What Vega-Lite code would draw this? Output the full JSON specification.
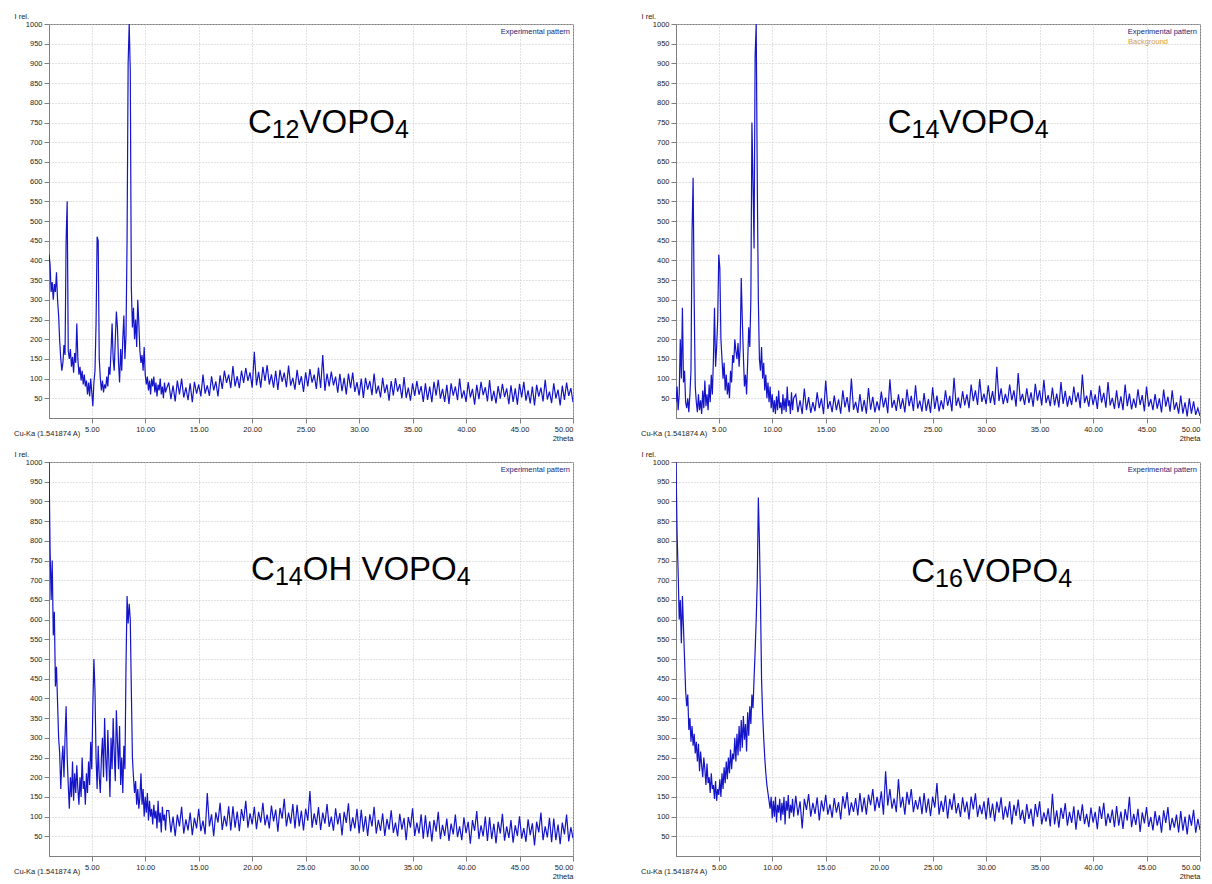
{
"$schema": "https://vega.github.io/schema/vega-lite/v6.json",
"padding": {"left": 13, "top": 11, "right": 5, "bottom": 2},
"config": {
  "font": "Liberation Sans",
  "view": {"stroke": "#808080", "strokeWidth": 1},
  "axis": {"labelFontSize": 7.5, "labelColor": "#222", "labelFont": "Liberation Sans", "titleFont": "Liberation Sans", "titleFontSize": 7.5, "titleFontWeight": "normal", "titleColor": "#222", "domainColor": "#808080", "tickColor": "#808080", "tickSize": 5, "grid": true, "gridColor": "#c4c4c4", "gridDash": [1, 2], "gridWidth": 1, "labelOverlap": false},
  "title": {"fontSize": 7.5, "fontWeight": "normal", "color": "#222", "font": "Liberation Sans"}
},
"datasets": {"xrd": [
{"t":1.0,"a":415,"b":40,"c":1000,"d":1000},
{"t":1.1,"a":390,"b":80,"c":780,"d":820},
{"t":1.2,"a":320,"b":20,"c":650,"d":720},
{"t":1.3,"a":345,"b":60,"c":750,"d":600},
{"t":1.4,"a":300,"b":200,"c":560,"d":650},
{"t":1.5,"a":340,"b":100,"c":620,"d":540},
{"t":1.6,"a":320,"b":280,"c":430,"d":660},
{"t":1.7,"a":370,"b":90,"c":480,"d":580},
{"t":1.8,"a":300,"b":120,"c":390,"d":500},
{"t":1.9,"a":260,"b":40,"c":300,"d":420},
{"t":2.0,"a":195,"b":25,"c":260,"d":380},
{"t":2.1,"a":150,"b":50,"c":170,"d":410},
{"t":2.2,"a":120,"b":15,"c":240,"d":320},
{"t":2.3,"a":140,"b":60,"c":280,"d":350},
{"t":2.4,"a":185,"b":120,"c":200,"d":290},
{"t":2.5,"a":160,"b":470,"c":300,"d":330},
{"t":2.6,"a":450,"b":610,"c":380,"d":280},
{"t":2.7,"a":550,"b":300,"c":250,"d":310},
{"t":2.8,"a":170,"b":80,"c":180,"d":260},
{"t":2.9,"a":150,"b":40,"c":120,"d":290},
{"t":3.0,"a":175,"b":15,"c":200,"d":240},
{"t":3.1,"a":130,"b":60,"c":150,"d":285},
{"t":3.2,"a":155,"b":20,"c":240,"d":215},
{"t":3.3,"a":115,"b":45,"c":140,"d":265},
{"t":3.4,"a":165,"b":10,"c":210,"d":230},
{"t":3.5,"a":140,"b":70,"c":160,"d":200},
{"t":3.6,"a":240,"b":25,"c":230,"d":250},
{"t":3.7,"a":150,"b":95,"c":170,"d":220},
{"t":3.8,"a":110,"b":30,"c":130,"d":180},
{"t":3.9,"a":130,"b":60,"c":200,"d":235},
{"t":4.0,"a":95,"b":20,"c":150,"d":185},
{"t":4.1,"a":120,"b":85,"c":250,"d":200},
{"t":4.2,"a":85,"b":40,"c":170,"d":160},
{"t":4.3,"a":110,"b":110,"c":190,"d":210},
{"t":4.4,"a":80,"b":60,"c":130,"d":170},
{"t":4.5,"a":95,"b":150,"c":210,"d":180},
{"t":4.6,"a":60,"b":280,"c":160,"d":145},
{"t":4.7,"a":90,"b":130,"c":240,"d":190},
{"t":4.8,"a":55,"b":180,"c":180,"d":140},
{"t":4.9,"a":100,"b":250,"c":290,"d":170},
{"t":5.0,"a":65,"b":415,"c":220,"d":155},
{"t":5.1,"a":30,"b":380,"c":380,"d":195},
{"t":5.2,"a":90,"b":200,"c":500,"d":150},
{"t":5.3,"a":120,"b":150,"c":420,"d":210},
{"t":5.4,"a":240,"b":100,"c":250,"d":170},
{"t":5.5,"a":460,"b":140,"c":170,"d":225},
{"t":5.6,"a":450,"b":70,"c":280,"d":185},
{"t":5.7,"a":150,"b":110,"c":200,"d":240},
{"t":5.8,"a":100,"b":60,"c":160,"d":195},
{"t":5.9,"a":70,"b":90,"c":250,"d":250},
{"t":6.0,"a":95,"b":50,"c":300,"d":210},
{"t":6.1,"a":65,"b":120,"c":200,"d":270},
{"t":6.2,"a":85,"b":90,"c":350,"d":220},
{"t":6.3,"a":75,"b":160,"c":250,"d":260},
{"t":6.4,"a":105,"b":140,"c":190,"d":245},
{"t":6.5,"a":80,"b":200,"c":320,"d":300},
{"t":6.6,"a":130,"b":170,"c":240,"d":240},
{"t":6.7,"a":110,"b":150,"c":150,"d":310},
{"t":6.8,"a":170,"b":190,"c":300,"d":255},
{"t":6.9,"a":240,"b":130,"c":220,"d":330},
{"t":7.0,"a":150,"b":180,"c":350,"d":265},
{"t":7.1,"a":120,"b":355,"c":260,"d":345},
{"t":7.2,"a":200,"b":250,"c":190,"d":275},
{"t":7.3,"a":270,"b":160,"c":370,"d":355},
{"t":7.4,"a":230,"b":80,"c":290,"d":295},
{"t":7.5,"a":140,"b":110,"c":220,"d":335},
{"t":7.6,"a":90,"b":60,"c":330,"d":265},
{"t":7.7,"a":175,"b":140,"c":180,"d":365},
{"t":7.8,"a":120,"b":230,"c":250,"d":305},
{"t":7.9,"a":200,"b":180,"c":160,"d":380},
{"t":8.0,"a":260,"b":300,"c":280,"d":335},
{"t":8.1,"a":150,"b":750,"c":220,"d":410},
{"t":8.2,"a":210,"b":600,"c":480,"d":375},
{"t":8.3,"a":450,"b":430,"c":660,"d":450},
{"t":8.4,"a":900,"b":920,"c":590,"d":520},
{"t":8.5,"a":1000,"b":1000,"c":640,"d":600},
{"t":8.6,"a":880,"b":600,"c":600,"d":700},
{"t":8.7,"a":330,"b":300,"c":420,"d":910},
{"t":8.8,"a":230,"b":150,"c":250,"d":800},
{"t":8.9,"a":280,"b":120,"c":200,"d":650},
{"t":9.0,"a":200,"b":180,"c":160,"d":450},
{"t":9.1,"a":250,"b":100,"c":190,"d":360},
{"t":9.2,"a":180,"b":140,"c":130,"d":300},
{"t":9.3,"a":300,"b":70,"c":170,"d":250},
{"t":9.4,"a":240,"b":110,"c":120,"d":210},
{"t":9.5,"a":170,"b":50,"c":150,"d":180},
{"t":9.6,"a":140,"b":90,"c":210,"d":160},
{"t":9.7,"a":160,"b":40,"c":130,"d":140},
{"t":9.8,"a":120,"b":80,"c":170,"d":120},
{"t":9.9,"a":180,"b":25,"c":100,"d":150},
{"t":10.0,"a":110,"b":60,"c":150,"d":95},
{"t":10.1,"a":85,"b":15,"c":110,"d":140},
{"t":10.2,"a":105,"b":45,"c":160,"d":100},
{"t":10.3,"a":70,"b":10,"c":90,"d":150},
{"t":10.4,"a":95,"b":55,"c":140,"d":85},
{"t":10.5,"a":60,"b":20,"c":100,"d":130},
{"t":10.6,"a":100,"b":70,"c":120,"d":110},
{"t":10.7,"a":80,"b":25,"c":80,"d":145},
{"t":10.8,"a":105,"b":40,"c":130,"d":90},
{"t":10.9,"a":65,"b":10,"c":95,"d":135},
{"t":11.0,"a":90,"b":60,"c":115,"d":105},
{"t":11.1,"a":55,"b":20,"c":70,"d":150},
{"t":11.2,"a":85,"b":50,"c":140,"d":80},
{"t":11.3,"a":70,"b":15,"c":85,"d":140},
{"t":11.4,"a":100,"b":80,"c":110,"d":115},
{"t":11.5,"a":60,"b":30,"c":60,"d":155},
{"t":11.6,"a":80,"b":45,"c":125,"d":95},
{"t":11.7,"a":50,"b":10,"c":90,"d":130},
{"t":11.8,"a":90,"b":65,"c":105,"d":110},
{"t":11.9,"a":65,"b":20,"c":65,"d":145},
{"t":12.0,"a":75,"b":50,"c":115,"d":100},
{"t":12.2,"a":90,"b":60,"c":115,"d":153},
{"t":12.4,"a":48,"b":15,"c":60,"d":103},
{"t":12.6,"a":82,"b":45,"c":100,"d":139},
{"t":12.8,"a":42,"b":10,"c":50,"d":70},
{"t":13.0,"a":95,"b":75,"c":105,"d":145},
{"t":13.2,"a":60,"b":20,"c":75,"d":117},
{"t":13.4,"a":100,"b":53,"c":125,"d":157},
{"t":13.6,"a":52,"b":13,"c":57,"d":100},
{"t":13.8,"a":78,"b":40,"c":93,"d":135},
{"t":14.0,"a":45,"b":17,"c":65,"d":107},
{"t":14.2,"a":88,"b":65,"c":110,"d":149},
{"t":14.4,"a":40,"b":25,"c":53,"d":90},
{"t":14.6,"a":92,"b":50,"c":97,"d":141},
{"t":14.8,"a":62,"b":10,"c":70,"d":113},
{"t":15.0,"a":85,"b":95,"c":120,"d":155},
{"t":15.2,"a":55,"b":23,"c":63,"d":105},
{"t":15.4,"a":110,"b":43,"c":90,"d":131},
{"t":15.6,"a":62,"b":15,"c":55,"d":97},
{"t":15.8,"a":83,"b":57,"c":160,"d":147},
{"t":16.0,"a":56,"b":20,"c":75,"d":110},
{"t":16.2,"a":106,"b":47,"c":106,"d":137},
{"t":16.4,"a":70,"b":11,"c":50,"d":93},
{"t":16.6,"a":93,"b":70,"c":111,"d":152},
{"t":16.8,"a":55,"b":27,"c":85,"d":120},
{"t":17.0,"a":108,"b":53,"c":135,"d":162},
{"t":17.2,"a":74,"b":15,"c":66,"d":103},
{"t":17.4,"a":120,"b":100,"c":102,"d":136},
{"t":17.6,"a":89,"b":21,"c":75,"d":112},
{"t":17.8,"a":110,"b":41,"c":126,"d":147},
{"t":18.0,"a":76,"b":13,"c":65,"d":103},
{"t":18.2,"a":132,"b":61,"c":126,"d":160},
{"t":18.4,"a":80,"b":16,"c":72,"d":111},
{"t":18.6,"a":106,"b":46,"c":113,"d":148},
{"t":18.8,"a":76,"b":11,"c":63,"d":105},
{"t":19.0,"a":120,"b":76,"c":119,"d":156},
{"t":19.2,"a":89,"b":21,"c":89,"d":129},
{"t":19.4,"a":127,"b":54,"c":140,"d":170},
{"t":19.6,"a":94,"b":14,"c":72,"d":114},
{"t":19.8,"a":116,"b":42,"c":108,"d":150},
{"t":20.0,"a":77,"b":19,"c":80,"d":122},
{"t":20.2,"a":168,"b":67,"c":125,"d":164},
{"t":20.4,"a":83,"b":27,"c":68,"d":105},
{"t":20.6,"a":117,"b":52,"c":112,"d":215},
{"t":20.8,"a":77,"b":12,"c":85,"d":128},
{"t":21.0,"a":130,"b":98,"c":135,"d":170},
{"t":21.2,"a":94,"b":26,"c":78,"d":120},
{"t":21.4,"a":134,"b":46,"c":105,"d":146},
{"t":21.6,"a":85,"b":18,"c":70,"d":111},
{"t":21.8,"a":111,"b":60,"c":128,"d":195},
{"t":22.0,"a":77,"b":23,"c":88,"d":123},
{"t":22.2,"a":120,"b":50,"c":118,"d":150},
{"t":22.4,"a":71,"b":14,"c":62,"d":105},
{"t":22.6,"a":122,"b":73,"c":122,"d":163},
{"t":22.8,"a":92,"b":30,"c":95,"d":130},
{"t":23.0,"a":115,"b":56,"c":145,"d":170},
{"t":23.2,"a":78,"b":18,"c":75,"d":111},
{"t":23.4,"a":133,"b":83,"c":110,"d":142},
{"t":23.6,"a":82,"b":24,"c":82,"d":118},
{"t":23.8,"a":102,"b":44,"c":132,"d":151},
{"t":24.0,"a":72,"b":16,"c":70,"d":106},
{"t":24.2,"a":122,"b":63,"c":130,"d":160},
{"t":24.4,"a":84,"b":18,"c":75,"d":110},
{"t":24.6,"a":106,"b":48,"c":115,"d":146},
{"t":24.8,"a":66,"b":13,"c":65,"d":101},
{"t":25.0,"a":116,"b":78,"c":120,"d":151},
{"t":25.2,"a":80,"b":23,"c":90,"d":123},
{"t":25.4,"a":124,"b":57,"c":165,"d":185},
{"t":25.6,"a":90,"b":17,"c":72,"d":105},
{"t":25.8,"a":110,"b":45,"c":108,"d":140},
{"t":26.0,"a":74,"b":22,"c":79,"d":112},
{"t":26.2,"a":128,"b":70,"c":124,"d":154},
{"t":26.4,"a":76,"b":31,"c":66,"d":95},
{"t":26.6,"a":160,"b":56,"c":110,"d":145},
{"t":26.8,"a":69,"b":17,"c":82,"d":117},
{"t":27.0,"a":113,"b":102,"c":132,"d":159},
{"t":27.2,"a":80,"b":31,"c":74,"d":108},
{"t":27.4,"a":118,"b":52,"c":100,"d":134},
{"t":27.6,"a":83,"b":25,"c":64,"d":99},
{"t":27.8,"a":105,"b":68,"c":121,"d":149},
{"t":28.0,"a":64,"b":32,"c":80,"d":111},
{"t":28.2,"a":112,"b":60,"c":109,"d":138},
{"t":28.4,"a":68,"b":25,"c":52,"d":93},
{"t":28.6,"a":102,"b":85,"c":112,"d":151},
{"t":28.8,"a":60,"b":43,"c":84,"d":118},
{"t":29.0,"a":113,"b":70,"c":134,"d":159},
{"t":29.2,"a":76,"b":33,"c":63,"d":99},
{"t":29.4,"a":115,"b":99,"c":98,"d":130},
{"t":29.6,"a":66,"b":41,"c":70,"d":106},
{"t":29.8,"a":91,"b":62,"c":120,"d":139},
{"t":30.0,"a":57,"b":35,"c":57,"d":93},
{"t":30.2,"a":100,"b":83,"c":117,"d":148},
{"t":30.4,"a":51,"b":38,"c":62,"d":97},
{"t":30.6,"a":102,"b":68,"c":101,"d":133},
{"t":30.8,"a":72,"b":33,"c":51,"d":88},
{"t":31.0,"a":94,"b":130,"c":106,"d":138},
{"t":31.2,"a":58,"b":43,"c":75,"d":110},
{"t":31.4,"a":113,"b":75,"c":125,"d":149},
{"t":31.6,"a":62,"b":35,"c":57,"d":92},
{"t":31.8,"a":82,"b":61,"c":92,"d":126},
{"t":32.0,"a":52,"b":38,"c":64,"d":98},
{"t":32.2,"a":102,"b":85,"c":108,"d":139},
{"t":32.4,"a":63,"b":45,"c":51,"d":80},
{"t":32.6,"a":85,"b":70,"c":94,"d":130},
{"t":32.8,"a":44,"b":29,"c":67,"d":102},
{"t":33.0,"a":94,"b":114,"c":116,"d":143},
{"t":33.2,"a":57,"b":42,"c":59,"d":92},
{"t":33.4,"a":101,"b":61,"c":85,"d":117},
{"t":33.6,"a":67,"b":33,"c":50,"d":82},
{"t":33.8,"a":86,"b":75,"c":107,"d":132},
{"t":34.0,"a":50,"b":38,"c":67,"d":94},
{"t":34.2,"a":104,"b":65,"c":96,"d":120},
{"t":34.4,"a":51,"b":29,"c":40,"d":75},
{"t":34.6,"a":77,"b":87,"c":99,"d":132},
{"t":34.8,"a":44,"b":44,"c":72,"d":99},
{"t":35.0,"a":88,"b":70,"c":121,"d":139},
{"t":35.2,"a":56,"b":32,"c":51,"d":80},
{"t":35.4,"a":94,"b":97,"c":85,"d":111},
{"t":35.6,"a":59,"b":38,"c":57,"d":87},
{"t":35.8,"a":81,"b":58,"c":106,"d":121},
{"t":36.0,"a":41,"b":30,"c":44,"d":75},
{"t":36.2,"a":88,"b":77,"c":103,"d":158},
{"t":36.4,"a":46,"b":32,"c":48,"d":80},
{"t":36.6,"a":80,"b":62,"c":88,"d":116},
{"t":36.8,"a":40,"b":27,"c":37,"d":72},
{"t":37.0,"a":92,"b":91,"c":92,"d":122},
{"t":37.2,"a":57,"b":36,"c":62,"d":94},
{"t":37.4,"a":97,"b":69,"c":112,"d":134},
{"t":37.6,"a":49,"b":29,"c":43,"d":77},
{"t":37.8,"a":74,"b":56,"c":79,"d":112},
{"t":38.0,"a":41,"b":33,"c":51,"d":84},
{"t":38.2,"a":84,"b":80,"c":95,"d":126},
{"t":38.4,"a":36,"b":40,"c":38,"d":67},
{"t":38.6,"a":88,"b":65,"c":82,"d":117},
{"t":38.8,"a":57,"b":25,"c":55,"d":89},
{"t":39.0,"a":80,"b":110,"c":105,"d":131},
{"t":39.2,"a":45,"b":38,"c":48,"d":81},
{"t":39.4,"a":100,"b":57,"c":75,"d":107},
{"t":39.6,"a":50,"b":29,"c":40,"d":73},
{"t":39.8,"a":70,"b":71,"c":98,"d":123},
{"t":40.0,"a":41,"b":33,"c":58,"d":85},
{"t":40.2,"a":91,"b":60,"c":87,"d":112},
{"t":40.4,"a":52,"b":23,"c":31,"d":68},
{"t":40.6,"a":74,"b":82,"c":91,"d":126},
{"t":40.8,"a":34,"b":39,"c":64,"d":94},
{"t":41.0,"a":84,"b":64,"c":114,"d":135},
{"t":41.2,"a":48,"b":26,"c":43,"d":76},
{"t":41.4,"a":92,"b":91,"c":78,"d":108},
{"t":41.6,"a":58,"b":32,"c":50,"d":84},
{"t":41.8,"a":78,"b":51,"c":100,"d":118},
{"t":42.0,"a":42,"b":23,"c":38,"d":73},
{"t":42.2,"a":96,"b":70,"c":98,"d":127},
{"t":42.4,"a":43,"b":25,"c":43,"d":77},
{"t":42.6,"a":69,"b":55,"c":82,"d":113},
{"t":42.8,"a":37,"b":20,"c":32,"d":69},
{"t":43.0,"a":81,"b":85,"c":87,"d":119},
{"t":43.2,"a":49,"b":30,"c":57,"d":90},
{"t":43.4,"a":87,"b":62,"c":107,"d":150},
{"t":43.6,"a":53,"b":22,"c":39,"d":73},
{"t":43.8,"a":75,"b":49,"c":75,"d":107},
{"t":44.0,"a":35,"b":26,"c":46,"d":79},
{"t":44.2,"a":83,"b":73,"c":91,"d":120},
{"t":44.4,"a":41,"b":33,"c":34,"d":61},
{"t":44.6,"a":75,"b":58,"c":78,"d":111},
{"t":44.8,"a":34,"b":17,"c":51,"d":83},
{"t":45.0,"a":87,"b":80,"c":101,"d":124},
{"t":45.2,"a":52,"b":29,"c":44,"d":74},
{"t":45.4,"a":92,"b":48,"c":71,"d":99},
{"t":45.6,"a":44,"b":20,"c":36,"d":65},
{"t":45.8,"a":70,"b":61,"c":93,"d":114},
{"t":46.0,"a":37,"b":24,"c":53,"d":77},
{"t":46.2,"a":80,"b":50,"c":83,"d":103},
{"t":46.4,"a":32,"b":14,"c":27,"d":59},
{"t":46.6,"a":84,"b":72,"c":87,"d":116},
{"t":46.8,"a":54,"b":29,"c":60,"d":84},
{"t":47.0,"a":77,"b":54,"c":110,"d":124},
{"t":47.2,"a":42,"b":16,"c":40,"d":65},
{"t":47.4,"a":97,"b":70,"c":75,"d":96},
{"t":47.6,"a":47,"b":21,"c":47,"d":72},
{"t":47.8,"a":67,"b":40,"c":97,"d":105},
{"t":48.0,"a":38,"b":11,"c":35,"d":60},
{"t":48.2,"a":88,"b":57,"c":95,"d":114},
{"t":48.4,"a":50,"b":11,"c":40,"d":64},
{"t":48.6,"a":72,"b":40,"c":80,"d":100},
{"t":48.8,"a":32,"b":4,"c":30,"d":55},
{"t":49.0,"a":82,"b":50,"c":85,"d":105},
{"t":49.2,"a":46,"b":11,"c":55,"d":77},
{"t":49.4,"a":90,"b":42,"c":105,"d":117},
{"t":49.6,"a":56,"b":8,"c":37,"d":59},
{"t":49.8,"a":76,"b":25,"c":73,"d":94},
{"t":50.0,"a":40,"b":5,"c":45,"d":66}
]},
"columns": 2,
"spacing": {"row": 6, "column": 66},
"concat": [
{
 "width": 524, "height": 394,
 "title": {"text": "Cu-Ka (1.541874 A)", "orient": "bottom", "anchor": "start", "offset": -12},
 "layer": [
  {"data": {"name": "xrd"},
   "mark": {"type": "line", "color": "#1414c8", "strokeWidth": 1.2, "clip": true},
   "encoding": {
    "x": {"field": "t", "type": "quantitative", "scale": {"domain": [1, 50], "nice": false, "zero": false},
          "axis": {"values": [5,10,15,20,25,30,35,40,45,50], "tickCount": 30, "format": ".2f", "title": "2theta", "titleAnchor": "end", "titlePadding": 2, "labelOverlap": false}},
    "y": {"field": "a", "type": "quantitative", "scale": {"domain": [0, 1000], "nice": false},
          "axis": {"values": [50,100,150,200,250,300,350,400,450,500,550,600,650,700,750,800,850,900,950,1000], "tickCount": 30, "format": "d", "labelOverlap": false, "labelFlush": false, "title": "I rel.", "titleAngle": 0, "titleX": -35, "titleY": -6, "titleAlign": "left", "titleBaseline": "alphabetic"}}
   }},
  {"data": {"values": [{}]}, "mark": {"type": "text", "text": "Experimental pattern", "fontSize": 7.5, "align": "right", "baseline": "top", "dx": -3, "dy": 4, "color": "#1c1c78"},
   "encoding": {"x": {"datum": 50, "type": "quantitative"}, "y": {"datum": 1000, "type": "quantitative"}}},
  {"data": {"values": [{}]}, "mark": {"type": "text", "text": "C", "fontSize": 33, "align": "left", "baseline": "alphabetic", "color": "#000"},
   "encoding": {"x": {"datum": 19.6, "type": "quantitative"}, "y": {"datum": 723, "type": "quantitative"}}},
  {"data": {"values": [{}]}, "mark": {"type": "text", "text": "12", "fontSize": 25, "align": "left", "baseline": "alphabetic", "dx": 23.8, "dy": 5, "color": "#000"},
   "encoding": {"x": {"datum": 19.6, "type": "quantitative"}, "y": {"datum": 723, "type": "quantitative"}}},
  {"data": {"values": [{}]}, "mark": {"type": "text", "text": "VOPO", "fontSize": 33, "align": "left", "baseline": "alphabetic", "dx": 51.6, "color": "#000"},
   "encoding": {"x": {"datum": 19.6, "type": "quantitative"}, "y": {"datum": 723, "type": "quantitative"}}},
  {"data": {"values": [{}]}, "mark": {"type": "text", "text": "4", "fontSize": 25, "align": "left", "baseline": "alphabetic", "dx": 147, "dy": 5, "color": "#000"},
   "encoding": {"x": {"datum": 19.6, "type": "quantitative"}, "y": {"datum": 723, "type": "quantitative"}}}
 ]
},
{
 "width": 524, "height": 394,
 "title": {"text": "Cu-Ka (1.541874 A)", "orient": "bottom", "anchor": "start", "offset": -12},
 "layer": [
  {"data": {"name": "xrd"},
   "mark": {"type": "line", "color": "#1414c8", "strokeWidth": 1.2, "clip": true},
   "encoding": {
    "x": {"field": "t", "type": "quantitative", "scale": {"domain": [1, 50], "nice": false, "zero": false},
          "axis": {"values": [5,10,15,20,25,30,35,40,45,50], "tickCount": 30, "format": ".2f", "title": "2theta", "titleAnchor": "end", "titlePadding": 2, "labelOverlap": false}},
    "y": {"field": "b", "type": "quantitative", "scale": {"domain": [0, 1000], "nice": false},
          "axis": {"values": [50,100,150,200,250,300,350,400,450,500,550,600,650,700,750,800,850,900,950,1000], "tickCount": 30, "format": "d", "labelOverlap": false, "labelFlush": false, "title": "I rel.", "titleAngle": 0, "titleX": -35, "titleY": -6, "titleAlign": "left", "titleBaseline": "alphabetic"}}
   }},
  {"data": {"values": [{}]}, "mark": {"type": "text", "text": "Experimental pattern", "fontSize": 7.5, "align": "right", "baseline": "top", "dx": -3, "dy": 4, "color": "#1c1c78"},
   "encoding": {"x": {"datum": 50, "type": "quantitative"}, "y": {"datum": 1000, "type": "quantitative"}}},
  {"data": {"values": [{}]}, "mark": {"type": "text", "text": "Background", "fontSize": 7.5, "align": "left", "baseline": "top", "dx": -72, "dy": 14, "color": "#d4a040"},
   "encoding": {"x": {"datum": 50, "type": "quantitative"}, "y": {"datum": 1000, "type": "quantitative"}}},
  {"data": {"values": [{}]}, "mark": {"type": "text", "text": "C", "fontSize": 33, "align": "left", "baseline": "alphabetic", "color": "#000"},
   "encoding": {"x": {"datum": 20.8, "type": "quantitative"}, "y": {"datum": 723, "type": "quantitative"}}},
  {"data": {"values": [{}]}, "mark": {"type": "text", "text": "14", "fontSize": 25, "align": "left", "baseline": "alphabetic", "dx": 23.8, "dy": 5, "color": "#000"},
   "encoding": {"x": {"datum": 20.8, "type": "quantitative"}, "y": {"datum": 723, "type": "quantitative"}}},
  {"data": {"values": [{}]}, "mark": {"type": "text", "text": "VOPO", "fontSize": 33, "align": "left", "baseline": "alphabetic", "dx": 51.6, "color": "#000"},
   "encoding": {"x": {"datum": 20.8, "type": "quantitative"}, "y": {"datum": 723, "type": "quantitative"}}},
  {"data": {"values": [{}]}, "mark": {"type": "text", "text": "4", "fontSize": 25, "align": "left", "baseline": "alphabetic", "dx": 147, "dy": 5, "color": "#000"},
   "encoding": {"x": {"datum": 20.8, "type": "quantitative"}, "y": {"datum": 723, "type": "quantitative"}}}
 ]
},
{
 "width": 524, "height": 394,
 "title": {"text": "Cu-Ka (1.541874 A)", "orient": "bottom", "anchor": "start", "offset": -12},
 "layer": [
  {"data": {"name": "xrd"},
   "mark": {"type": "line", "color": "#1414c8", "strokeWidth": 1.2, "clip": true},
   "encoding": {
    "x": {"field": "t", "type": "quantitative", "scale": {"domain": [1, 50], "nice": false, "zero": false},
          "axis": {"values": [5,10,15,20,25,30,35,40,45,50], "tickCount": 30, "format": ".2f", "title": "2theta", "titleAnchor": "end", "titlePadding": 2, "labelOverlap": false}},
    "y": {"field": "c", "type": "quantitative", "scale": {"domain": [0, 1000], "nice": false},
          "axis": {"values": [50,100,150,200,250,300,350,400,450,500,550,600,650,700,750,800,850,900,950,1000], "tickCount": 30, "format": "d", "labelOverlap": false, "labelFlush": false, "title": "I rel.", "titleAngle": 0, "titleX": -35, "titleY": -6, "titleAlign": "left", "titleBaseline": "alphabetic"}}
   }},
  {"data": {"values": [{}]}, "mark": {"type": "text", "text": "Experimental pattern", "fontSize": 7.5, "align": "right", "baseline": "top", "dx": -3, "dy": 4, "color": "#1c1c78"},
   "encoding": {"x": {"datum": 50, "type": "quantitative"}, "y": {"datum": 1000, "type": "quantitative"}}},
  {"data": {"values": [{}]}, "mark": {"type": "text", "text": "C", "fontSize": 33, "align": "left", "baseline": "alphabetic", "color": "#000"},
   "encoding": {"x": {"datum": 19.9, "type": "quantitative"}, "y": {"datum": 700, "type": "quantitative"}}},
  {"data": {"values": [{}]}, "mark": {"type": "text", "text": "14", "fontSize": 25, "align": "left", "baseline": "alphabetic", "dx": 23.8, "dy": 5, "color": "#000"},
   "encoding": {"x": {"datum": 19.9, "type": "quantitative"}, "y": {"datum": 700, "type": "quantitative"}}},
  {"data": {"values": [{}]}, "mark": {"type": "text", "text": "OH VOPO", "fontSize": 33, "align": "left", "baseline": "alphabetic", "dx": 51.6, "color": "#000"},
   "encoding": {"x": {"datum": 19.9, "type": "quantitative"}, "y": {"datum": 700, "type": "quantitative"}}},
  {"data": {"values": [{}]}, "mark": {"type": "text", "text": "4", "fontSize": 25, "align": "left", "baseline": "alphabetic", "dx": 205.6, "dy": 5, "color": "#000"},
   "encoding": {"x": {"datum": 19.9, "type": "quantitative"}, "y": {"datum": 700, "type": "quantitative"}}}
 ]
},
{
 "width": 524, "height": 394,
 "title": {"text": "Cu-Ka (1.541874 A)", "orient": "bottom", "anchor": "start", "offset": -12},
 "layer": [
  {"data": {"name": "xrd"},
   "mark": {"type": "line", "color": "#1414c8", "strokeWidth": 1.2, "clip": true},
   "encoding": {
    "x": {"field": "t", "type": "quantitative", "scale": {"domain": [1, 50], "nice": false, "zero": false},
          "axis": {"values": [5,10,15,20,25,30,35,40,45,50], "tickCount": 30, "format": ".2f", "title": "2theta", "titleAnchor": "end", "titlePadding": 2, "labelOverlap": false}},
    "y": {"field": "d", "type": "quantitative", "scale": {"domain": [0, 1000], "nice": false},
          "axis": {"values": [50,100,150,200,250,300,350,400,450,500,550,600,650,700,750,800,850,900,950,1000], "tickCount": 30, "format": "d", "labelOverlap": false, "labelFlush": false, "title": "I rel.", "titleAngle": 0, "titleX": -35, "titleY": -6, "titleAlign": "left", "titleBaseline": "alphabetic"}}
   }},
  {"data": {"values": [{}]}, "mark": {"type": "text", "text": "Experimental pattern", "fontSize": 7.5, "align": "right", "baseline": "top", "dx": -3, "dy": 4, "color": "#1c1c78"},
   "encoding": {"x": {"datum": 50, "type": "quantitative"}, "y": {"datum": 1000, "type": "quantitative"}}},
  {"data": {"values": [{}]}, "mark": {"type": "text", "text": "C", "fontSize": 33, "align": "left", "baseline": "alphabetic", "color": "#000"},
   "encoding": {"x": {"datum": 23.0, "type": "quantitative"}, "y": {"datum": 695, "type": "quantitative"}}},
  {"data": {"values": [{}]}, "mark": {"type": "text", "text": "16", "fontSize": 25, "align": "left", "baseline": "alphabetic", "dx": 23.8, "dy": 5, "color": "#000"},
   "encoding": {"x": {"datum": 23.0, "type": "quantitative"}, "y": {"datum": 695, "type": "quantitative"}}},
  {"data": {"values": [{}]}, "mark": {"type": "text", "text": "VOPO", "fontSize": 33, "align": "left", "baseline": "alphabetic", "dx": 51.6, "color": "#000"},
   "encoding": {"x": {"datum": 23.0, "type": "quantitative"}, "y": {"datum": 695, "type": "quantitative"}}},
  {"data": {"values": [{}]}, "mark": {"type": "text", "text": "4", "fontSize": 25, "align": "left", "baseline": "alphabetic", "dx": 147, "dy": 5, "color": "#000"},
   "encoding": {"x": {"datum": 23.0, "type": "quantitative"}, "y": {"datum": 695, "type": "quantitative"}}}
 ]
}
]
}
